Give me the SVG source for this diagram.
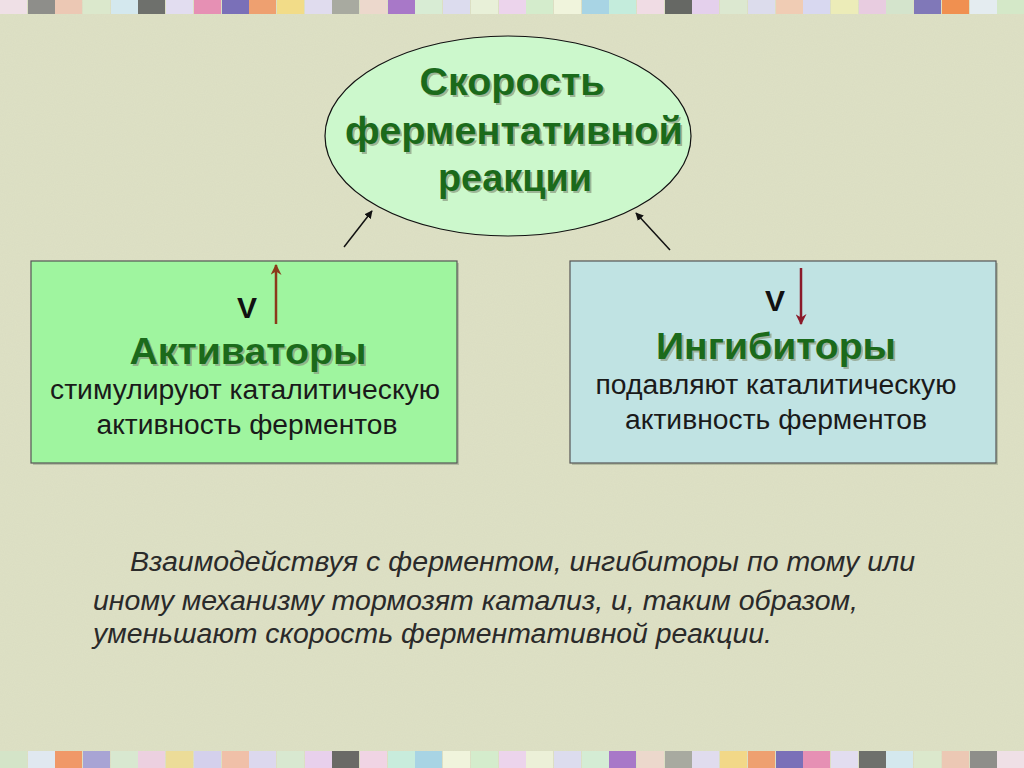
<svg xmlns="http://www.w3.org/2000/svg" width="1024" height="768" viewBox="0 0 1024 768">
<defs>
<style>
.title{font-family:"Liberation Sans",Arial,sans-serif;font-weight:bold;fill:#1b6a1b;text-anchor:middle;font-size:38px}
.head{font-family:"Liberation Sans",Arial,sans-serif;font-weight:bold;fill:#1b6a1b;text-anchor:middle;font-size:36px}
.shadow{fill:#8a9a80;opacity:0.7}
.v{font-family:"Liberation Sans",Arial,sans-serif;font-weight:bold;fill:#111;font-size:30px;text-anchor:middle}
.body{font-family:"Liberation Sans",Arial,sans-serif;fill:#1a1a1a;font-size:27px;text-anchor:middle}
.note{font-family:"Liberation Sans",Arial,sans-serif;font-style:italic;fill:#2a2a2a;font-size:27px}
.box{stroke:#555;stroke-width:1.2}
.conn{stroke:#111;stroke-width:1.5;fill:none}
.sq{stroke:none}
</style>
<marker id="ah" viewBox="0 0 10 10" refX="9" refY="5" markerWidth="8" markerHeight="8" orient="auto" markerUnits="userSpaceOnUse">
<path d="M0,0 L10,5 L0,10 z" fill="#111"/>
</marker>
<marker id="ahBrown" viewBox="0 0 10 10" refX="9" refY="5" markerWidth="11" markerHeight="11" orient="auto" markerUnits="userSpaceOnUse">
<path d="M0,0 L10,5 L0,10 L3,5 z" fill="#8b3a1a"/>
</marker>
<marker id="ahRed" viewBox="0 0 10 10" refX="9" refY="5" markerWidth="11" markerHeight="11" orient="auto" markerUnits="userSpaceOnUse">
<path d="M0,0 L10,5 L0,10 L3,5 z" fill="#8b1a2a"/>
</marker>
<filter id="tex" x="0" y="0" width="100%" height="100%">
<feTurbulence type="fractalNoise" baseFrequency="0.9" numOctaves="2" seed="3" result="n"/>
<feColorMatrix type="matrix" values="0 0 0 0 0.5  0 0 0 0 0.5  0 0 0 0 0.4  0 0 0 0.12 0" in="n"/>
</filter>
</defs>

<rect x="0" y="0" width="1024" height="768" fill="#dee1c5"/>
<rect x="0" y="0" width="1024" height="768" filter="url(#tex)"/>

<g id="border-top" class="sq">
<rect x="0" y="0" width="27" height="14" fill="#efe0e6"/>
<rect x="28" y="0" width="27" height="14" fill="#8e8e8a"/>
<rect x="55" y="0" width="27" height="14" fill="#ecc8b4"/>
<rect x="83" y="0" width="27" height="14" fill="#dbe8cc"/>
<rect x="111" y="0" width="27" height="14" fill="#d4e8ee"/>
<rect x="138" y="0" width="27" height="14" fill="#6e706c"/>
<rect x="166" y="0" width="27" height="14" fill="#e2ddf0"/>
<rect x="194" y="0" width="27" height="14" fill="#e690b4"/>
<rect x="222" y="0" width="27" height="14" fill="#7a70b8"/>
<rect x="249" y="0" width="27" height="14" fill="#eea070"/>
<rect x="277" y="0" width="27" height="14" fill="#f2dc88"/>
<rect x="305" y="0" width="27" height="14" fill="#e0dcee"/>
<rect x="332" y="0" width="27" height="14" fill="#a8aaa0"/>
<rect x="360" y="0" width="27" height="14" fill="#ecd8cc"/>
<rect x="388" y="0" width="27" height="14" fill="#a878c8"/>
<rect x="415" y="0" width="27" height="14" fill="#d8ecd4"/>
<rect x="443" y="0" width="27" height="14" fill="#dcdcee"/>
<rect x="471" y="0" width="27" height="14" fill="#e8f0d8"/>
<rect x="499" y="0" width="27" height="14" fill="#ecd4ec"/>
<rect x="526" y="0" width="27" height="14" fill="#d4eccc"/>
<rect x="554" y="0" width="27" height="14" fill="#f0f4dc"/>
<rect x="582" y="0" width="27" height="14" fill="#a8d4e4"/>
<rect x="609" y="0" width="27" height="14" fill="#c4ecdc"/>
<rect x="637" y="0" width="27" height="14" fill="#f0dce4"/>
<rect x="665" y="0" width="27" height="14" fill="#666864"/>
<rect x="692" y="0" width="27" height="14" fill="#e4d0ec"/>
<rect x="720" y="0" width="27" height="14" fill="#dce8d0"/>
<rect x="748" y="0" width="27" height="14" fill="#dcdcec"/>
<rect x="776" y="0" width="27" height="14" fill="#f0ccb4"/>
<rect x="803" y="0" width="27" height="14" fill="#d8d8f0"/>
<rect x="831" y="0" width="27" height="14" fill="#ececb8"/>
<rect x="859" y="0" width="27" height="14" fill="#e8cce0"/>
<rect x="886" y="0" width="27" height="14" fill="#d4e4cc"/>
<rect x="914" y="0" width="27" height="14" fill="#8078b8"/>
<rect x="942" y="0" width="27" height="14" fill="#f09050"/>
<rect x="970" y="0" width="27" height="14" fill="#e4ecf0"/>
<rect x="997" y="0" width="27" height="14" fill="#d4e8c8"/>
</g>

<g id="border-bottom" class="sq">
<rect x="0" y="751" width="27" height="17" fill="#d4e4c8"/>
<rect x="28" y="751" width="27" height="17" fill="#e0e8f0"/>
<rect x="55" y="751" width="27" height="17" fill="#f09868"/>
<rect x="83" y="751" width="27" height="17" fill="#a8a4d4"/>
<rect x="111" y="751" width="27" height="17" fill="#d8e8d0"/>
<rect x="138" y="751" width="27" height="17" fill="#ecd0e0"/>
<rect x="166" y="751" width="27" height="17" fill="#ecdc98"/>
<rect x="194" y="751" width="27" height="17" fill="#d4d0ec"/>
<rect x="222" y="751" width="27" height="17" fill="#f0c0a8"/>
<rect x="249" y="751" width="27" height="17" fill="#dcd8ee"/>
<rect x="277" y="751" width="27" height="17" fill="#d8e8d0"/>
<rect x="305" y="751" width="27" height="17" fill="#e8d0ec"/>
<rect x="332" y="751" width="27" height="17" fill="#6a6a66"/>
<rect x="360" y="751" width="27" height="17" fill="#f0d4e4"/>
<rect x="388" y="751" width="27" height="17" fill="#c8ecdc"/>
<rect x="415" y="751" width="27" height="17" fill="#a8d4e4"/>
<rect x="443" y="751" width="27" height="17" fill="#f0f4dc"/>
<rect x="471" y="751" width="27" height="17" fill="#d4eccc"/>
<rect x="499" y="751" width="27" height="17" fill="#ecd4ec"/>
<rect x="526" y="751" width="27" height="17" fill="#ecf0d8"/>
<rect x="554" y="751" width="27" height="17" fill="#dcdcee"/>
<rect x="582" y="751" width="27" height="17" fill="#d4ecd4"/>
<rect x="609" y="751" width="27" height="17" fill="#a878c8"/>
<rect x="637" y="751" width="27" height="17" fill="#ecd8cc"/>
<rect x="665" y="751" width="27" height="17" fill="#a8aaa0"/>
<rect x="692" y="751" width="27" height="17" fill="#e0dcee"/>
<rect x="720" y="751" width="27" height="17" fill="#f2d888"/>
<rect x="748" y="751" width="27" height="17" fill="#eea070"/>
<rect x="776" y="751" width="27" height="17" fill="#7a70b8"/>
<rect x="803" y="751" width="27" height="17" fill="#e690b4"/>
<rect x="831" y="751" width="27" height="17" fill="#e2ddf0"/>
<rect x="859" y="751" width="27" height="17" fill="#6e706c"/>
<rect x="886" y="751" width="27" height="17" fill="#d4e8ee"/>
<rect x="914" y="751" width="27" height="17" fill="#dbe8cc"/>
<rect x="942" y="751" width="27" height="17" fill="#ecc8b4"/>
<rect x="970" y="751" width="27" height="17" fill="#8e8e8a"/>
<rect x="997" y="751" width="27" height="17" fill="#efe0e6"/>
</g>

<g id="connectors">
<line class="conn" x1="344" y1="247" x2="372" y2="211" marker-end="url(#ah)"/>
<line class="conn" x1="670" y1="250" x2="636" y2="213" marker-end="url(#ah)"/>
</g>

<g id="node-rate">
<ellipse cx="508" cy="136" rx="183" ry="100" fill="#ccf8cc" stroke="#111" stroke-width="1.2"/>
<text class="title shadow" x="514" y="97" textLength="185" lengthAdjust="spacingAndGlyphs">Скорость</text>
<text class="title shadow" x="516" y="146" textLength="338" lengthAdjust="spacingAndGlyphs">ферментативной</text>
<text class="title shadow" x="517" y="193" textLength="154" lengthAdjust="spacingAndGlyphs">реакции</text>
<text class="title" x="512" y="95" textLength="185" lengthAdjust="spacingAndGlyphs">Скорость</text>
<text class="title" x="514" y="144" textLength="338" lengthAdjust="spacingAndGlyphs">ферментативной</text>
<text class="title" x="515" y="191" textLength="154" lengthAdjust="spacingAndGlyphs">реакции</text>
</g>

<g id="node-activators">
<rect x="33" y="263" width="426" height="202" fill="#8a9a80" opacity="0.5"/>
<rect class="box" x="31" y="261" width="426" height="202" fill="#9ff59f"/>
<text class="v" x="247" y="318">V</text>
<line x1="276" y1="324" x2="276" y2="265" stroke="#8b3a1a" stroke-width="2.5" marker-end="url(#ahBrown)"/>
<text class="head shadow" x="250" y="366" textLength="237" lengthAdjust="spacingAndGlyphs">Активаторы</text>
<text class="head" x="248" y="364" textLength="237" lengthAdjust="spacingAndGlyphs">Активаторы</text>
<text class="body" x="245" y="399" textLength="390" lengthAdjust="spacingAndGlyphs">стимулируют каталитическую</text>
<text class="body" x="247" y="434" textLength="301" lengthAdjust="spacingAndGlyphs">активность ферментов</text>
</g>

<g id="node-inhibitors">
<rect x="572" y="263" width="426" height="202" fill="#8a9a80" opacity="0.5"/>
<rect class="box" x="570" y="261" width="426" height="202" fill="#c0e3e3"/>
<text class="v" x="775" y="311">V</text>
<line x1="801" y1="268" x2="801" y2="324" stroke="#8b1a2a" stroke-width="2.5" marker-end="url(#ahRed)"/>
<text class="head shadow" x="778" y="361" textLength="240" lengthAdjust="spacingAndGlyphs">Ингибиторы</text>
<text class="head" x="776" y="359" textLength="240" lengthAdjust="spacingAndGlyphs">Ингибиторы</text>
<text class="body" x="776" y="394" textLength="361" lengthAdjust="spacingAndGlyphs">подавляют каталитическую</text>
<text class="body" x="776" y="429" textLength="302" lengthAdjust="spacingAndGlyphs">активность ферментов</text>
</g>

<g id="note">
<text class="note" x="130" y="571" textLength="785" lengthAdjust="spacingAndGlyphs">Взаимодействуя с ферментом, ингибиторы по тому или</text>
<text class="note" x="93" y="610" textLength="765" lengthAdjust="spacingAndGlyphs">иному механизму тормозят катализ, и, таким образом,</text>
<text class="note" x="93" y="643" textLength="679" lengthAdjust="spacingAndGlyphs">уменьшают скорость ферментативной реакции.</text>
</g>
</svg>
